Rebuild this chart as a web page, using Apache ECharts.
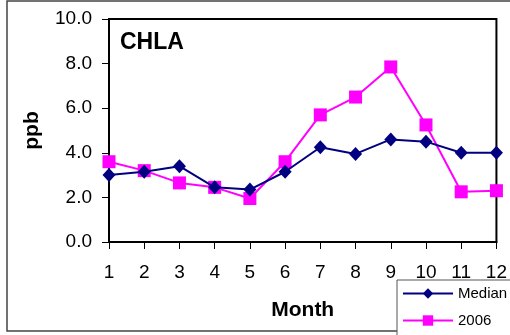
<!DOCTYPE html>
<html>
<head>
<meta charset="utf-8">
<script src="https://cdn.jsdelivr.net/npm/echarts@6/dist/echarts.min.js"></script>
<style>
  html, body { margin: 0; padding: 0; background: #fff; }
  #chart { width: 510px; height: 335px; }
</style>
</head>
<body>
<div id="chart"></div>
<script>
// Monthly chlorophyll-a (ppb): long-term median vs. 2006
const months = ['1', '2', '3', '4', '5', '6', '7', '8', '9', '10', '11', '12'];
const medianValues = [3.0, 3.15, 3.4, 2.45, 2.35, 3.15, 4.25, 3.95, 4.6, 4.5, 4.0, 4.0];
const values2006 = [3.6, 3.2, 2.65, 2.45, 1.95, 3.6, 5.7, 6.5, 7.85, 5.25, 2.25, 2.3];
const yTicks = { min: 0, max: 10, interval: 2 };

const FONT = '"Liberation Sans", Arial, sans-serif';

const chart = echarts.init(document.getElementById('chart'), null, { renderer: 'canvas' });

chart.setOption({
  animation: false,
  backgroundColor: '#fff',
  grid: {
    left: 109, top: 19, right: 9, bottom: 93,
    show: true, borderColor: '#000', borderWidth: 2, backgroundColor: 'transparent'
  },
  xAxis: {
    type: 'category',
    data: months,
    boundaryGap: false,
    name: 'Month',
    nameLocation: 'middle',
    nameGap: 58,
    nameTextStyle: { fontFamily: FONT, fontSize: 21, fontWeight: 'bold', color: '#000' },
    axisLine: { lineStyle: { color: '#000', width: 2 } },
    axisTick: { show: true, length: 7, lineStyle: { color: '#000', width: 1 } },
    axisLabel: { fontFamily: FONT, fontSize: 19, color: '#000', margin: 21 },
    splitLine: { show: false }
  },
  yAxis: {
    type: 'value',
    min: yTicks.min,
    max: yTicks.max,
    interval: yTicks.interval,
    name: 'ppb',
    nameLocation: 'middle',
    nameRotate: 90,
    nameGap: 66,
    nameTextStyle: { fontFamily: FONT, fontSize: 21, fontWeight: 'bold', color: '#000' },
    axisLine: { show: true, lineStyle: { color: '#000', width: 2 } },
    axisTick: { show: true, length: 7, lineStyle: { color: '#000', width: 1 } },
    axisLabel: {
      fontFamily: FONT, fontSize: 19, color: '#000', margin: 17,
      formatter: v => v.toFixed(1)
    },
    splitLine: { show: false }
  },
  legend: {
    orient: 'vertical',
    left: 402,
    top: 286,
    padding: 0,
    itemWidth: 50,
    itemHeight: 13,
    itemGap: 12,
    textStyle: { fontFamily: FONT, fontSize: 15, color: '#000' },
    data: ['Median', '2006']
  },
  graphic: [
    {
      type: 'rect',
      shape: { x: 7, y: 1, width: 520, height: 330 },
      style: { fill: 'none', stroke: '#444', lineWidth: 1.5 },
      silent: true, z: -1
    },
    {
      type: 'rect',
      shape: { x: 397, y: 280, width: 130, height: 60 },
      style: { fill: '#fff', stroke: '#555', lineWidth: 1 },
      silent: true, z: 0
    },
    {
      type: 'text',
      left: 120,
      top: 31,
      style: { text: 'CHLA', font: 'bold 23px ' + FONT, fill: '#000' }
    }
  ],
  series: [
    {
      name: 'Median',
      type: 'line',
      data: medianValues,
      symbol: 'diamond',
      symbolSize: [13, 14],
      showAllSymbol: true,
      z: 3,
      itemStyle: { color: '#000080' },
      lineStyle: { color: '#000080', width: 2 }
    },
    {
      name: '2006',
      type: 'line',
      data: values2006,
      symbol: 'rect',
      symbolSize: 13,
      showAllSymbol: true,
      z: 2,
      itemStyle: { color: '#ff00ff' },
      lineStyle: { color: '#ff00ff', width: 2 }
    }
  ]
});
</script>
</body>
</html>
